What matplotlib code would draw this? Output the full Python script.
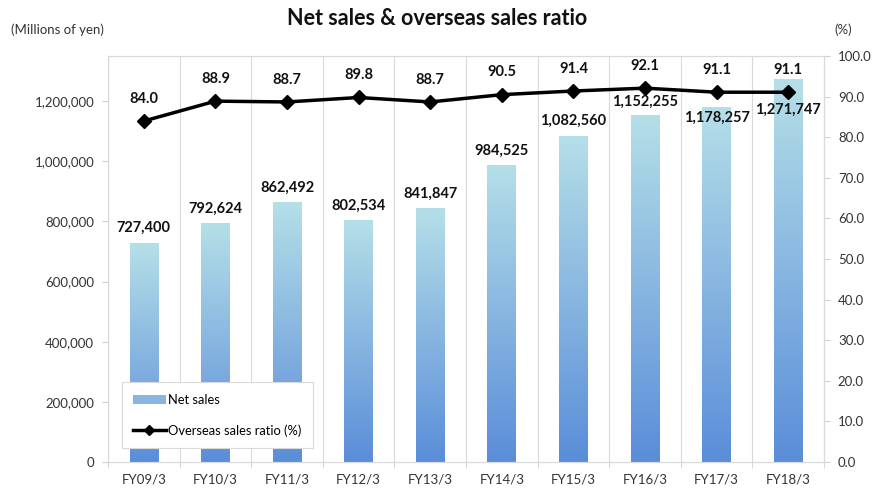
import numpy as np
import matplotlib.pyplot as plt
from matplotlib.patches import Rectangle
from matplotlib.lines import Line2D
from matplotlib.colors import LinearSegmentedColormap

plt.rcParams['font.family'] = ['Lato', 'DejaVu Sans']

years = ['FY09/3', 'FY10/3', 'FY11/3', 'FY12/3', 'FY13/3',
         'FY14/3', 'FY15/3', 'FY16/3', 'FY17/3', 'FY18/3']
net_sales = [727400, 792624, 862492, 802534, 841847,
             984525, 1082560, 1152255, 1178257, 1271747]
overseas_ratio = [84.0, 88.9, 88.7, 89.8, 88.7, 90.5, 91.4, 92.1, 91.1, 91.1]

# label offsets above bar top (points), last two pushed down under the line
sales_label_off = [11, 11, 11, 11, 11, 11, 11, 10, -7, -22]

fig = plt.figure(figsize=(8.74, 4.92), dpi=100)
ax = fig.add_axes([0.1236, 0.061, 0.8192, 0.825])
ax2 = ax.twinx()

x = np.arange(len(years))
w = 0.40
cmap = LinearSegmentedColormap.from_list('bars', ['#5a8dd9', '#b5dfe8'])
grad = np.linspace(0, 1, 256).reshape(-1, 1)

for xi, v in zip(x, net_sales):
    ax.imshow(grad, cmap=cmap, origin='lower', aspect='auto',
              extent=[xi - w / 2, xi + w / 2, 0, v], zorder=2)

for xi, v, off in zip(x, net_sales, sales_label_off):
    ax.annotate(f'{v:,}', (xi, v), xytext=(0, off), textcoords='offset points',
                ha='center', va='center', fontsize=10.5, fontweight='bold',
                color='#111111', zorder=5)

ax.set_xlim(-0.5, len(years) - 0.5)
ax.set_ylim(0, 1350000)
ax.set_yticks(np.arange(0, 1200001, 200000))
ax.set_yticklabels([f'{t:,}' for t in range(0, 1200001, 200000)])
ax.set_xticks(x)
ax.set_xticklabels(years)
ax.set_xticks(np.arange(-0.5, len(years), 1), minor=True)
ax.tick_params(axis='x', which='major', length=0, pad=8)
ax.tick_params(axis='x', which='minor', length=4, color='#d0d0d0')
ax.tick_params(axis='y', length=4, color='#d0d0d0', pad=6)
ax.grid(axis='x', which='minor', color='#d9d9d9', lw=0.8, zorder=0)
ax.set_axisbelow(True)

ax2.plot(x, overseas_ratio, color='black', lw=2.5, marker='D', ms=7, zorder=4)
for xi, v in zip(x, overseas_ratio):
    ax2.annotate(f'{v:.1f}', (xi, v), xytext=(0, 16), textcoords='offset points',
                 ha='center', va='center', fontsize=10.5, fontweight='bold',
                 color='#111111')
ax2.set_ylim(0, 100)
ax2.set_yticks(np.arange(0, 101, 10))
ax2.set_yticklabels([f'{t:.1f}' for t in range(0, 101, 10)])
ax2.tick_params(axis='y', length=4, color='#d0d0d0', pad=6)

for a in (ax, ax2):
    for s in a.spines.values():
        s.set_color('#d9d9d9')
        s.set_linewidth(0.8)
    a.tick_params(labelsize=9.5, labelcolor='#333333')

handles = [Rectangle((0, 0), 1, 1, facecolor='#8cb4e2', edgecolor='none'),
           Line2D([], [], color='black', lw=2.5, marker='D', ms=5)]
leg = ax2.legend(handles, ['Net sales', 'Overseas sales ratio (%)'],
                 loc='lower left', bbox_to_anchor=(0.019, 0.034),
                 fontsize=9.3, frameon=True, fancybox=False, framealpha=1,
                 labelspacing=1.4, handlelength=2.5, handletextpad=0.2,
                 borderpad=0.9, borderaxespad=0)
leg.get_frame().set_edgecolor('#d9d9d9')
leg.get_frame().set_linewidth(0.8)

fig.text(0.5, 0.963, 'Net sales & overseas sales ratio', ha='center', va='center',
         fontsize=15.5, fontweight='bold', color='#111111')
fig.text(0.013, 0.94, '(Millions of yen)', ha='left', va='center',
         fontsize=9.5, color='#333333')
fig.text(0.955, 0.94, '(%)', ha='left', va='center', fontsize=9.5, color='#333333')

fig.savefig('out.png', dpi=100)
